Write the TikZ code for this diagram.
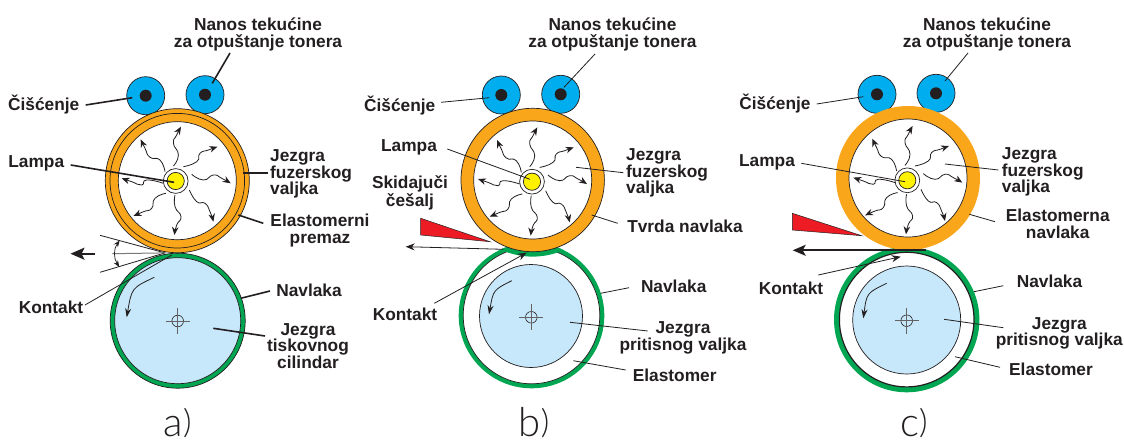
\documentclass[tikz,border=0pt]{standalone}
\usepackage{fontspec}
\setmainfont{Liberation Sans}
\newfontfamily\capfont{Lato Light}
\usetikzlibrary{arrows.meta}
\definecolor{ink}{HTML}{231F20}
\definecolor{cblue}{HTML}{00AEEF}
\definecolor{corange}{HTML}{FAA61A}
\definecolor{cgreen}{HTML}{00A651}
\definecolor{clight}{HTML}{C7E8FA}
\definecolor{cyel}{HTML}{FFF200}
\definecolor{cred}{HTML}{ED1C24}
\newcommand\ldr[4]{\coordinate (#2s) at (#3); \coordinate (#2e) at (#4); \draw[#1] (#2s) -- (#2e);}
\newcommand\wavy[1]{\draw[wave] plot[smooth,tension=0.95] coordinates {#1};}
\newcommand\captxt[1]{#1\raisebox{3pt}{\fontsize{33}{33}\selectfont )}}
\tikzset{
  lbl/.style={font=\bfseries\fontsize{17.3}{16.5}\selectfont,text=ink,align=center,inner sep=0pt},
  lbll/.style={lbl,align=left,anchor=west},
  captext/.style={font=\capfont\fontsize{40}{40}\selectfont,text=ink,inner sep=0pt,anchor=base},
  thickl/.style={ink,line width=1.6pt},
  thinl/.style={ink,line width=0.8pt},
  wave/.style={ink,line width=0.8pt,-{Stealth[length=8pt,width=6.5pt]}},
  lamp/.pic={
    \fill[white,draw=ink,line width=0.7pt] (0,0) circle (12.4);
    \fill[cyel,draw=ink,line width=0.7pt] (0,0) circle (8.6);
    \wavy{(-2.3,-15)(2.7,-26)(-2.3,-37.7)(1,-46)(5.3,-54.3)}
    \wavy{(-10.7,-9.3)(-15.7,-21)(-25.7,-23.7)(-30.7,-32.7)(-35,-41.7)}
    \wavy{(7.7,-14.3)(21,-19.3)(24.3,-27.7)(32.7,-31)(41.7,-34.3)}
    \wavy{(16,-6.7)(27.7,-1)(37.7,-6)(46,-2.7)(55,2.3)}
    \wavy{(13.7,9)(21,20.7)(29.3,22.3)(34.3,30.7)(37.7,40.7)}
    \wavy{(-0.7,14)(-0.7,25.7)(5.3,35.7)(1,44)(-1.3,54)}
    \wavy{(-9.7,12.3)(-20.7,17.3)(-24,27.3)(-32.3,30.7)(-42.3,35)}
    \wavy{(-12.3,2.3)(-29,-1)(-34,4)(-44,0.7)(-54,-2.7)}
  },
  crossmark/.pic={
    \draw[ink,line width=0.6pt] (0,0) circle (5.8);
    \draw[ink!70,line width=0.7pt] (-12,0) -- (12,0) (0,-13) -- (0,13);
  },
  blueroll/.pic={
    \fill[cblue,draw=ink,line width=0.7pt] (0,0) circle (19);
    \fill[ink] (0,0) circle (6);
  },
}
\begin{document}
\begin{tikzpicture}[x=1pt,y=-1pt]
\useasboundingbox (0,0) rectangle (1124,444);
\fill[white] (0,0) rectangle (1124,444);

% ---------- panel a ----------
\fill[cgreen,draw=ink,line width=0.7pt] (177.7,320.7) circle (67.5);
\fill[clight,draw=ink,line width=0.7pt] (177.7,320.7) circle (63);
\pic at (177.7,321) {crossmark};
\pic at (145.7,95.7) {blueroll};
\pic at (205,94.7) {blueroll};
\fill[corange,draw=ink,line width=0.7pt] (177.3,180.7) circle (72);
\draw[ink,line width=0.7pt] (177.3,180.7) circle (67.3);
\fill[white,draw=ink,line width=0.7pt] (177.3,180.7) circle (59);
\pic at (175.7,181) {lamp};
\coordinate (aAngT) at (100,235.3);
\coordinate (aAngB) at (100,272.3);
\coordinate (aAngH) at (112.3,253.7);
\coordinate (aNip) at (165,252.9);
\draw[thinl] (aAngT) -- (aNip) -- (aAngB);
\draw[ink!60,line width=1pt] (aAngH) -- (aNip);
\coordinate (aArcT) at (119.6,240.5);
\coordinate (aArcB) at (119.3,267);
\draw[ink,line width=0.7pt,{Stealth[length=6.5pt,width=5pt]}-{Stealth[length=6.5pt,width=5pt]}] (aArcT) .. controls (113.5,249) and (113.5,258) .. (aArcB);
\coordinate (aBigS) at (95,253.7);
\coordinate (aBigE) at (70.5,253.7);
\draw[ink,line width=2pt,-{Stealth[length=14pt,width=12pt,inset=3pt]}] (aBigS) -- (aBigE);
\coordinate (aRotS) at (154.3,277.3);
\coordinate (aRotE) at (126.7,317.3);
\draw[ink,line width=0.8pt,-{Stealth[length=9pt,width=6pt]}] (aRotS) .. controls (131.7,288) .. (aRotE);
\node[lbl] (aNanos) at (258,34.5) {Nanos tekućine\\za otpuštanje tonera};
\node[lbl] (aCis) at (43.7,105) {Čišćenje};
\node[lbl] (aLampa) at (36.3,163) {Lampa};
\node[lbll] (aJez) at (270,174) {Jezgra\\fuzerskog\\valjka};
\node[lbl] (aElast) at (320,230.5) {Elastomerni\\premaz};
\node[lbl] (aNavl) at (309,290) {Navlaka};
\node[lbl] (aTisk) at (308,346) {Jezgra\\tiskovnog\\cilindar};
\node[lbl] (aKont) at (51,307.5) {Kontakt};
\node[captext] (aCap) at (177.7,436) {\captxt{a}};
\ldr{thickl}{aL1}{230,53}{212.3,83.3}
\ldr{thickl}{aL2}{85.7,105}{132.3,97.7}
\ldr{thickl}{aL3}{70.7,165}{174,182.3}
\ldr{thickl}{aL4}{268.3,172.7}{243.3,172.7}
\ldr{thickl}{aL5}{263.3,223.3}{238.3,215}
\ldr{thickl}{aL6}{270,291}{240.7,298.3}
\ldr{thickl}{aL7}{265,336}{213.3,328.3}
\ldr{thinl}{aL8}{85,305}{171.7,255}

% ---------- panel b ----------
\fill[cgreen] (531.5,315.5) circle (72.8);
\fill[white] (531.5,315.5) circle (68.3);
\draw[ink,line width=0.7pt] (531.5,315.5) circle (68.3);
\begin{scope}
\clip (531.5,315.5) circle (72.8);
\fill[cgreen] (532.7,180) circle (76.6);
\end{scope}
\fill[clight,draw=ink,line width=0.7pt] (531,316) circle (51.5);
\pic at (531.3,317.3) {crossmark};
\pic at (501.3,95) {blueroll};
\pic at (560.7,94.3) {blueroll};
\fill[corange,draw=ink,line width=0.7pt] (532.7,180) circle (71.7);
\fill[white,draw=ink,line width=0.7pt] (532.7,180) circle (59);
\pic at (532,181.7) {lamp};
\fill[cred,draw=ink,line width=0.5pt] (420.7,218.3) -- (420.7,235) -- (490,241.7) -- cycle;
\coordinate (bArrS) at (503.3,249.3);
\coordinate (bArrE) at (405.7,246.7);
\draw[ink,line width=0.8pt,-{Stealth[length=9pt,width=7pt]}] (bArrS) -- (bArrE);
\coordinate (bRotS) at (511.7,280.7);
\coordinate (bRotE) at (489,314.3);
\draw[ink,line width=0.8pt,-{Stealth[length=9pt,width=6pt]}] (bRotS) .. controls (493.3,290) .. (bRotE);
\node[lbl] (bNanos) at (612.5,34.5) {Nanos tekućine\\za otpuštanje tonera};
\node[lbl] (bCis) at (399.7,105.5) {Čišćenje};
\node[lbl] (bLampa) at (409,147.5) {Lampa};
\node[lbl] (bSkid) at (410,193) {Skidajuči\\češalj};
\node[lbll] (bJez) at (626,173) {Jezgra\\fuzerskog\\valjka};
\node[lbl] (bTvrda) at (685,226.5) {Tvrda navlaka};
\node[lbl] (bNavl) at (673.7,286) {Navlaka};
\node[lbl] (bPrit) at (683,338) {Jezgra\\pritisnog valjka};
\node[lbl] (bElast) at (674.7,375) {Elastomer};
\node[lbl] (bKont) at (405,314.5) {Kontakt};
\node[captext] (bCap) at (534,436) {\captxt{b}};
\ldr{thinl}{bL1}{595,54}{564,87.3}
\ldr{thinl}{bL2}{441,102.3}{489.3,97.7}
\ldr{thinl}{bL3}{447.3,149}{530,179.3}
\ldr{thinl}{bL4}{623.3,172.7}{576,167.3}
\ldr{thinl}{bL5}{617.7,223.3}{591.7,215}
\ldr{thinl,-{Stealth[length=9pt,width=7pt]}}{bL6}{434.3,303.3}{526.7,252.7}
\ldr{thinl}{bL7}{629,287.7}{600.7,293.3}
\ldr{thinl}{bL8}{647.7,331}{570,322.3}
\ldr{thinl}{bL9}{625.7,370}{573.3,360.7}

% ---------- panel c ----------
\fill[cgreen] (906.7,319.6) circle (72.7);
\fill[white,draw=ink,line width=1.2pt] (906.7,319.6) circle (67.3);
\fill[clight,draw=ink,line width=0.7pt] (906.7,320) circle (54);
\pic at (906.7,320.7) {crossmark};
\pic at (877,94.3) {blueroll};
\pic at (936,93.3) {blueroll};
\fill[corange] (908,178) circle (72);
\fill[white,draw=ink,line width=0.7pt] (908,178) circle (59);
\pic at (907.3,180.3) {lamp};
\fill[cred,draw=ink,line width=0.5pt] (792.3,213.3) -- (792.3,230) -- (861.7,235.7) -- cycle;
\coordinate (cArrS) at (925.7,250.3);
\coordinate (cArrE) at (792.7,250.3);
\draw[ink,line width=1.8pt,-{Stealth[length=13pt,width=11pt,inset=3pt]}] (cArrS) -- (cArrE);
\coordinate (cRotS) at (886.7,283.3);
\coordinate (cRotE) at (863.3,318.3);
\draw[ink,line width=0.8pt,-{Stealth[length=9pt,width=6pt]}] (cRotS) .. controls (866.7,293) .. (cRotE);
\node[lbl] (cNanos) at (987,34.5) {Nanos tekućine\\za otpuštanje tonera};
\node[lbl] (cCis) at (775,104) {Čišćenje};
\node[lbl] (cLampa) at (767,162) {Lampa};
\node[lbll] (cJez) at (1001.7,172) {Jezgra\\fuzerskog\\valjka};
\node[lbl] (cElast) at (1057.7,224) {Elastomerna\\navlaka};
\node[lbl] (cNavl) at (1049.5,281) {Navlaka};
\node[lbl] (cPrit) at (1059.3,333.5) {Jezgra\\pritisnog valjka};
\node[lbl] (cElas2) at (1051,369.5) {Elastomer};
\node[lbl] (cKont) at (791,288.5) {Kontakt};
\node[captext] (cCap) at (914,436) {\captxt{c}};
\ldr{thinl}{cL1}{968,53}{945,81}
\ldr{thinl}{cL2}{816.7,104}{863.3,96.7}
\ldr{thinl}{cL3}{801.3,163.3}{905,181.7}
\ldr{thinl}{cL4}{998.3,170}{945,164}
\ldr{thinl}{cL5}{995,221.7}{969.3,214.3}
\ldr{thinl,-{Stealth[length=9pt,width=7pt]}}{cL6}{818.3,275}{900.7,256.7}
\ldr{thinl}{cL7}{1003.3,285.7}{974,291.7}
\ldr{thinl}{cL8}{1003.3,327.7}{944,319.3}
\ldr{thinl}{cL9}{1000,367.3}{955,356.7}
\end{tikzpicture}
\end{document}
